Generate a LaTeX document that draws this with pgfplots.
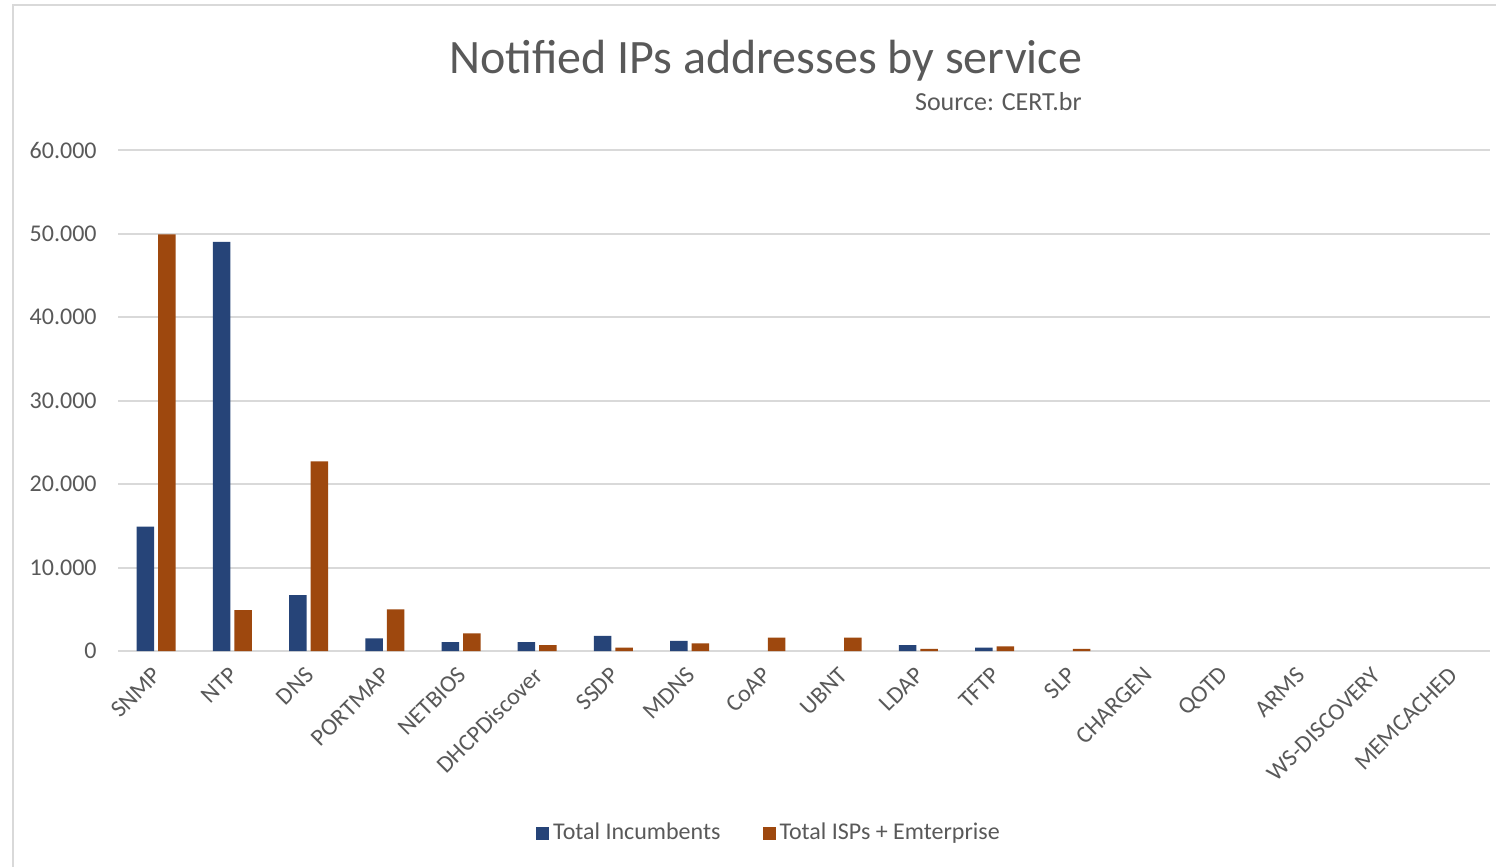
\documentclass[border=0pt]{standalone}
\usepackage{pgfplots}
\pgfplotsset{compat=1.18}
\usepackage{fontspec}
\setmainfont{Carlito}
\definecolor{cblue}{HTML}{264478}
\definecolor{corange}{HTML}{9E480E}
\definecolor{txtgray}{HTML}{595959}
\definecolor{gridgray}{HTML}{D9D9D9}
\begin{document}
\begin{tikzpicture}
\path[use as bounding box, fill=white] (0,0) rectangle (748pt,-433.5pt);
\draw[gridgray, line width=1pt] (6.5pt,-433.5pt) -- (6.5pt,-2.5pt) -- (748pt,-2.5pt);
\node[anchor=base, font=\fontsize{24}{28}\selectfont, text=txtgray, inner sep=0pt] at (382.75pt,-36.5pt) {Notified IPs addresses by service};
\node[anchor=base east, font=\fontsize{13}{15}\selectfont, text=txtgray, inner sep=0pt] at (541pt,-55pt) {Source: CERT.br};
\begin{axis}[
  at={(59pt,-325.5pt)}, anchor=south west,
  scale only axis, width=686pt, height=250.5pt,
  ybar=2pt, bar width=8.75pt,
  xmin=-0.5, xmax=17.5, ymin=0, ymax=60000,
  xtick={0,1,...,17},
  xticklabels={SNMP,NTP,DNS,PORTMAP,NETBIOS,DHCPDiscover,SSDP,MDNS,CoAP,UBNT,LDAP,TFTP,SLP,CHARGEN,QOTD,ARMS,WS-DISCOVERY,MEMCACHED},
  ytick={0,10000,...,60000},
  scaled y ticks=false,
  /pgf/number format/.cd, 1000 sep={.}, assume math mode=true, /pgfplots/.cd,
  major tick length=0pt,
  axis line style={draw=none},
  ymajorgrids, grid style={gridgray, line width=1pt},
  tick label style={font=\fontsize{12}{14}\selectfont, text=txtgray},
  yticklabel style={inner sep=0pt, xshift=-10.5pt},
  xticklabel style={rotate=45, anchor=east, inner sep=1pt, xshift=-5.6pt, yshift=-7.6pt},
  legend style={at={(0.4752,-0.3633)}, anchor=center, draw=none, fill=none,
    legend columns=2, font=\fontsize{12}{14}\selectfont, text=txtgray,
    /tikz/every even column/.append style={column sep=19pt}},
  legend image code/.code={\fill[#1] (0pt,-3.25pt) rectangle (6.5pt,3.25pt);},
]
\addplot[fill=cblue, draw=none] coordinates {
(0,14900) (1,49000) (2,6700) (3,1500) (4,1050) (5,1050) (6,1800) (7,1200) (10,700) (11,400)};
\addplot[fill=corange, draw=none] coordinates {
(0,49900) (1,4900) (2,22700) (3,5000) (4,2100) (5,700) (6,400) (7,900) (8,1600) (9,1600) (10,250) (11,550) (12,250)};
\legend{Total Incumbents, Total ISPs + Emterprise}
\end{axis}
\end{tikzpicture}
\end{document}
